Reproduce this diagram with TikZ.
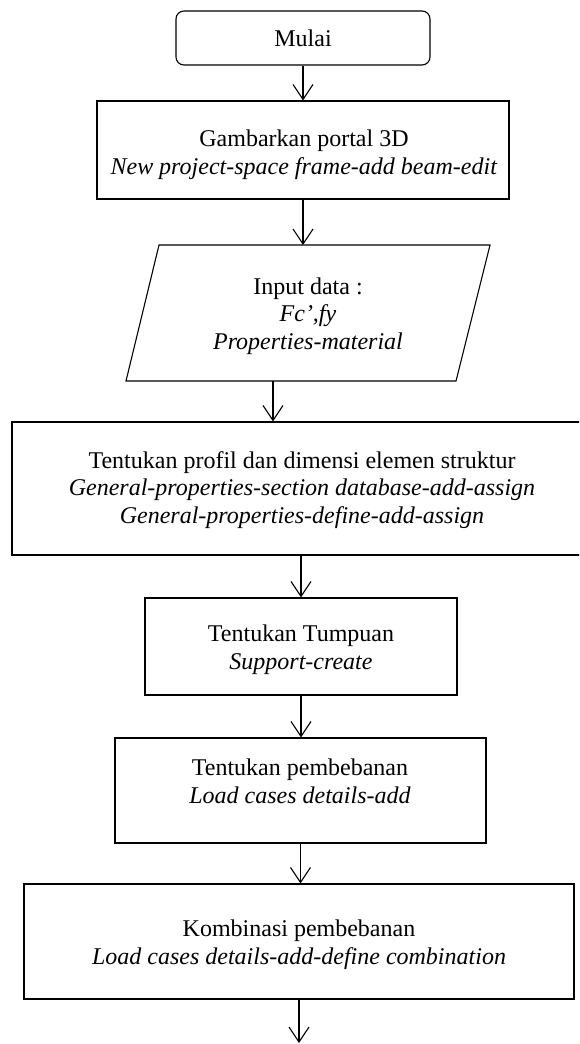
\documentclass[tikz,border=0pt]{standalone}
\usepackage{fontspec}
\setmainfont{Liberation Serif}
\usetikzlibrary{arrows.meta}
\begin{document}
\begin{tikzpicture}[x=0.5pt,y=-0.5pt,
  box/.style={draw, rectangle, line width=0.55pt, inner sep=0pt},
  startbox/.style={box, rounded corners=4pt},
  txt/.style={align=center, inner sep=0pt, font=\fontsize{12}{13.8}\selectfont},
  flow/.style={-{Straight Barb[length=7.5pt,width=10pt]}, line width=0.55pt}]
  % page frame
  \useasboundingbox (0,0) rectangle (579,1044);
  \clip (0,0) rectangle (579,1044);

  % process boxes (outlines)
  \node[startbox, minimum width=127pt, minimum height=27pt] (b1) at (303,38) {};
  \node[box, minimum width=206pt, minimum height=49pt] (b2) at (303,150) {};
  \node[box, minimum width=294pt, minimum height=66.5pt] (b4) at (306,488.5) {};
  \node[box, minimum width=156pt, minimum height=48.5pt] (b5) at (301,646.5) {};
  \node[box, minimum width=185.5pt, minimum height=52.5pt] (b6) at (300.5,790.5) {};
  \node[box, minimum width=275pt, minimum height=57.5pt] (b7) at (299,941.5) {};

  % input parallelogram
  \draw[line width=0.55pt] (159,245) -- (490,245) -- (456,381) -- (126,381) -- cycle;
  \coordinate (pin) at (303,245);
  \coordinate (pout) at (273,381);
  \coordinate (end) at (299,1043);

  % texts
  \node[txt] (t1) at (303,38) {Mulai};
  \node[txt] (t2) at (304,155) {Gambarkan portal 3D\\ \textit{New project-space frame-add beam-edit}};
  \node[txt] (t3) at (308,316) {Input data :\\ \textit{Fc’,fy}\\ \textit{Properties-material}};
  \node[txt] (t4) at (302,490) {Tentukan profil dan dimensi elemen struktur\\ \textit{General-properties-section database-add-assign}\\ \textit{General-properties-define-add-assign}};
  \node[txt] (t5) at (301,650) {Tentukan Tumpuan\\ \textit{Support-create}};
  \node[txt] (t6) at (300,781) {Tentukan pembebanan\\ \textit{Load cases details-add}};
  \node[txt] (t7) at (299,945) {Kombinasi pembebanan\\ \textit{Load cases details-add-define combination}};

  % connectors
  \draw[flow] (b1.south) -- (b2.north);
  \draw[flow] (b2.south) -- (pin);
  \draw[flow] (pout) -- (pout |- b4.north);
  \draw[flow] (b4.south -| b5.north) -- (b5.north);
  \draw[flow] (b5.south) -- (b5.south |- b6.north);
  \draw[flow] (b6.south) -- (b6.south |- b7.north);
  \draw[flow] (b7.south) -- (end);
\end{tikzpicture}
\end{document}
